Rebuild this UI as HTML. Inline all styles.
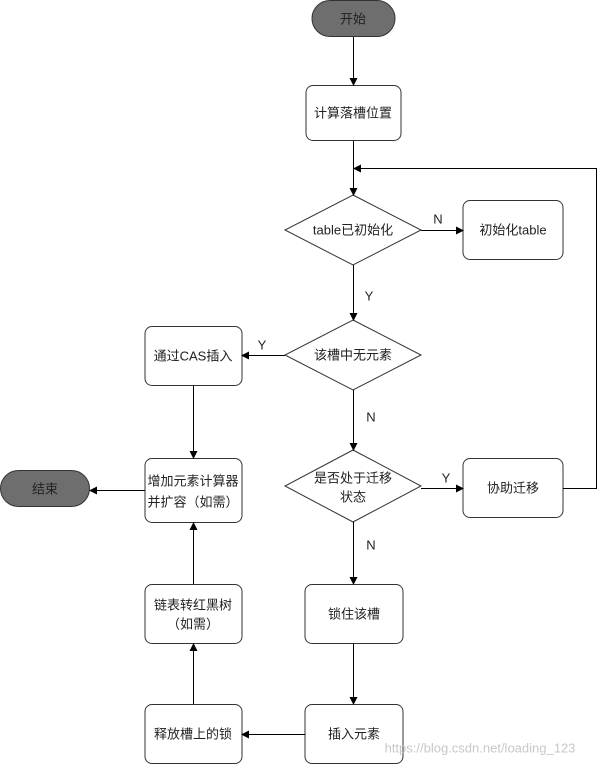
<!DOCTYPE html>
<html><head><meta charset="utf-8"><style>
html,body{margin:0;padding:0;background:#fff;}
svg text{font-family:"Liberation Sans","Noto Sans CJK SC",sans-serif;font-size:13px;fill:#222;text-anchor:middle;dominant-baseline:central;}
</style></head><body>
<svg width="601" height="765" viewBox="0 0 601 765" xmlns="http://www.w3.org/2000/svg">
<defs><marker id="a" markerWidth="8" markerHeight="8" refX="7" refY="4" orient="auto" markerUnits="userSpaceOnUse"><path d="M0,0 L8,4 L0,8 z" fill="#000"/></marker></defs>
<g stroke="#333" stroke-width="1" fill="#fff">
<rect x="312" y="0.5" width="83" height="36" rx="18" fill="#6e6e6e"/>
<rect x="306" y="85.5" width="95" height="55" rx="7"/>
<polygon points="353,195 421,230 353,265 285,230"/>
<rect x="463" y="200.5" width="100" height="59" rx="7"/>
<polygon points="353,320 421,355 353,390 285,355"/>
<rect x="145" y="326.5" width="97" height="59" rx="7"/>
<polygon points="353,450 421,486 353,522 285,486"/>
<rect x="463" y="458.5" width="100" height="59" rx="7"/>
<rect x="305" y="584.5" width="98" height="59" rx="7"/>
<rect x="305" y="704.5" width="98" height="59" rx="7"/>
<rect x="145" y="704.5" width="97" height="59" rx="7"/>
<rect x="145" y="584.5" width="97" height="59" rx="7"/>
<rect x="145" y="458.5" width="97" height="64" rx="7"/>
<rect x="0.5" y="470.5" width="89" height="36" rx="18" fill="#6e6e6e"/>
</g>
<g stroke="#000" stroke-width="1" fill="none" marker-end="url(#a)">
<path d="M353.5,37 V85"/>
<path d="M353.5,141 V195"/>
<path d="M421,230.5 H463"/>
<path d="M353.5,265 V320"/>
<path d="M285,355.5 H242"/>
<path d="M353.5,390 V450"/>
<path d="M421,488.5 H463"/>
<path d="M563,488.5 H596.5 V168.5 H354"/>
<path d="M353.5,522 V584"/>
<path d="M353.5,644 V704"/>
<path d="M305,734.5 H242"/>
<path d="M193.5,704 V644"/>
<path d="M193.5,584 V523"/>
<path d="M193.5,386 V458"/>
<path d="M145,490.5 H90"/>
</g>
<text x="353" y="19">开始</text>
<text x="353" y="113">计算落槽位置</text>
<text x="353" y="230">table已初始化</text>
<text x="513" y="230">初始化table</text>
<text x="353" y="355">该槽中无元素</text>
<text x="193" y="356">通过CAS插入</text>
<text x="353" y="478">是否处于迁移</text>
<text x="353" y="497">状态</text>
<text x="513" y="488">协助迁移</text>
<text x="354" y="614">锁住该槽</text>
<text x="354" y="734">插入元素</text>
<text x="193" y="734">释放槽上的锁</text>
<text x="193" y="605">链表转红黑树</text>
<text x="193" y="624">（如需）</text>
<text x="193" y="481">增加元素计算器</text>
<text x="193" y="502">并扩容（如需）</text>
<text x="45" y="489">结束</text>
<text x="438" y="219">N</text>
<text x="369" y="296">Y</text>
<text x="262" y="345">Y</text>
<text x="371" y="417">N</text>
<text x="446" y="478">Y</text>
<text x="371" y="545">N</text>
<text x="480" y="748" style="fill:#c8c8c8;font-size:13px">https://blog.csdn.net/loading_123</text>
</svg>
</body></html>
